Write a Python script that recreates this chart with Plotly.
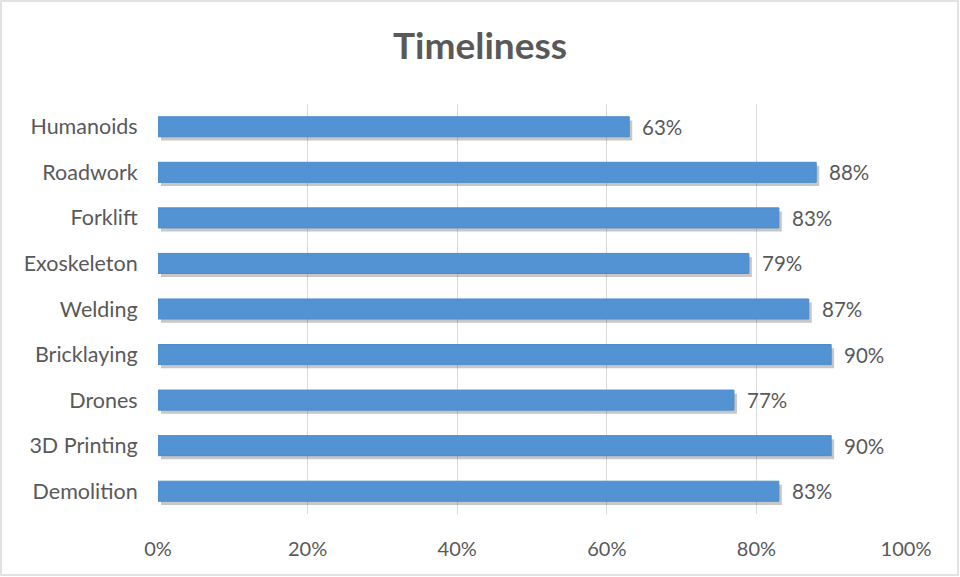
import plotly.graph_objects as go

categories = ["Demolition", "3D Printing", "Drones", "Bricklaying", "Welding",
              "Exoskeleton", "Forklift", "Roadwork", "Humanoids"]
values = [0.83, 0.90, 0.77, 0.90, 0.87, 0.79, 0.83, 0.88, 0.63]
tick_vals = [0, 0.2, 0.4, 0.6, 0.8, 1.0]
tick_text = ["0%", "20%", "40%", "60%", "80%", "100%"]

FONT = "Lato, Carlito, Calibri, sans-serif"
GREY = "#595959"

fig = go.Figure()
# base trace (transparent) that carries the category axis labels
fig.add_trace(go.Bar(
    y=categories, x=values, orientation="h",
    marker=dict(color="rgba(0,0,0,0)", line=dict(width=0)),
    hoverinfo="skip", showlegend=False))
# soft shadow layer
fig.add_trace(go.Bar(
    y=categories, x=values, orientation="h", xaxis="x2", yaxis="y2",
    marker=dict(color="rgba(70,70,70,0.30)", line=dict(width=0)),
    hoverinfo="skip", showlegend=False))
# visible bars
fig.add_trace(go.Bar(
    y=categories, x=values, orientation="h", xaxis="x3", yaxis="y3",
    marker=dict(color="#5393D4", line=dict(color="#4D8BCB", width=1)),
    showlegend=False))

annotations = []
for c, v in zip(categories, values):
    annotations.append(dict(x=v, y=c, xref="x", yref="y", text=f"{round(v*100)}%",
                            showarrow=False, xanchor="left", xshift=11,
                            font=dict(family=FONT, size=20.5, color=GREY)))

n = len(categories)
fig.update_layout(
    width=960, height=577,
    paper_bgcolor="white", plot_bgcolor="white",
    margin=dict(l=158, r=54, t=104, b=63),
    title=dict(text="<b>Timeliness</b>", x=0.5, xanchor="center", y=0.92, yanchor="middle",
               font=dict(family=FONT, size=37, color=GREY)),
    bargap=0.56,
    xaxis=dict(range=[0, 1.0], tickvals=tick_vals, ticktext=tick_text,
               showgrid=True, gridcolor="#D9D9D9", gridwidth=1, zeroline=False,
               showline=False, ticks="outside", ticklen=17, tickcolor="rgba(0,0,0,0)",
               tickfont=dict(family=FONT, size=20, color=GREY), domain=[0, 1]),
    yaxis=dict(showgrid=False, zeroline=False, showline=False,
               ticks="outside", ticklen=15, tickcolor="rgba(0,0,0,0)",
               range=[-0.5, n - 0.5],
               tickfont=dict(family=FONT, size=21.5, color=GREY), domain=[0, 1]),
    xaxis2=dict(range=[-0.004, 0.996], overlaying="x", visible=False, anchor="y2"),
    yaxis2=dict(range=[-0.5 + 0.08, n - 0.5 + 0.08], overlaying="y", visible=False,
                anchor="x2", type="category"),
    xaxis3=dict(range=[0, 1.0], overlaying="x", visible=False, anchor="y3"),
    yaxis3=dict(range=[-0.5, n - 0.5], overlaying="y", visible=False,
                anchor="x3", type="category"),
    annotations=annotations,
    shapes=[dict(type="rect", xref="paper", yref="paper", x0=-157/748, x1=1+52/748,
                 y0=-61/410, y1=1+103/410, line=dict(color="#D9D9D9", width=1.5))],
)
fig.write_html("out.html", config={"displayModeBar": False},
               post_script="document.body.style.margin='0';")
